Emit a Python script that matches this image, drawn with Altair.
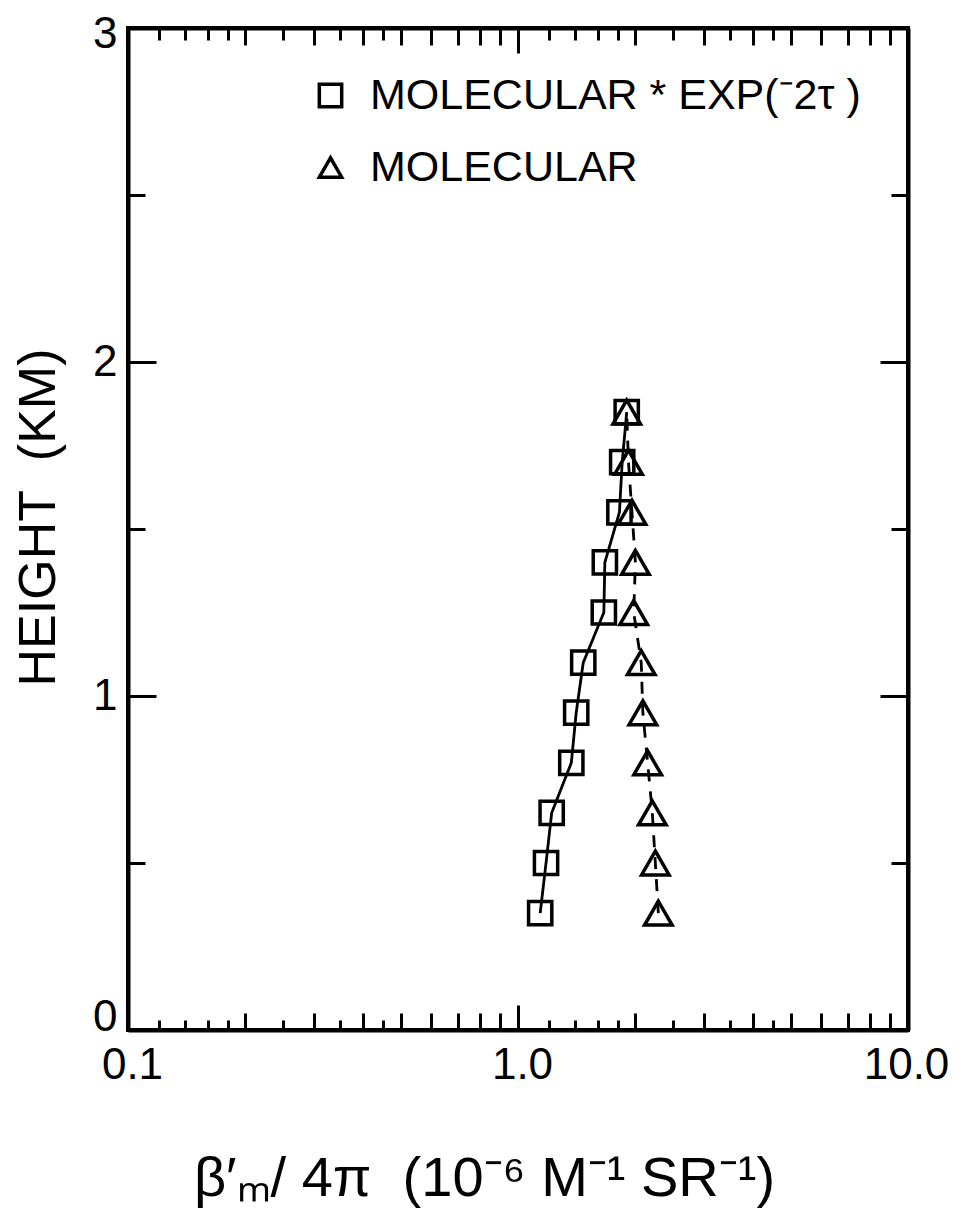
import altair as alt
import pandas as pd

# ---- data ----
heights = [0.35, 0.50, 0.65, 0.80, 0.95, 1.10, 1.25, 1.40, 1.55, 1.70, 1.85]
attenuated = [1.14, 1.18, 1.22, 1.37, 1.41, 1.47, 1.66, 1.67, 1.82, 1.85, 1.90]
molecular = [2.29, 2.25, 2.21, 2.15, 2.09, 2.07, 1.98, 2.00, 1.96, 1.92, 1.90]
series_names = ["MOLECULAR * EXP(\u207b2\u03c4 )", "MOLECULAR"]

x_label_values = [0.1, 1, 10]
x_major_ticks = [0.1, 1, 10]
x_mid_ticks = [0.2, 0.3, 0.4, 0.5, 0.6, 0.7, 0.8, 0.9, 2, 3, 4, 5, 6, 7, 8, 9]
x_minor_ticks = [0.12, 0.14, 0.16, 0.18, 0.25, 0.35, 0.45,
                 1.2, 1.4, 1.6, 1.8, 2.5, 3.5, 4.5]
y_label_values = [0, 1, 2, 3]
y_major_ticks = [0, 1, 2, 3]
y_minor_ticks = [0.5, 1.5, 2.5]

W, H = 780, 1002
FONT = "Liberation Sans"
NB = "\u00a0"

rows = []
for h, a in zip(heights, attenuated):
    rows.append({"h": h, "beta": a, "series": series_names[0]})
for h, m in zip(heights, molecular):
    rows.append({"h": h, "beta": m, "series": series_names[1]})
df = pd.DataFrame(rows)

xscale = alt.Scale(type="log", domain=[0.1, 10])
yscale = alt.Scale(domain=[0, 3])
shape_scale = alt.Scale(domain=series_names, range=["square", "triangle-up"])


def tick_axis(values, orient, size, offset, domain=False):
    return alt.Axis(orient=orient, values=values, tickSize=size, tickWidth=3,
                    tickColor="black", labels=False, domain=domain,
                    domainColor="black", domainWidth=4, grid=False,
                    title=None, offset=offset)


def tick_layer(xaxis, yaxis):
    return alt.Chart(df).mark_point(opacity=0).encode(
        x=alt.X("beta:Q", scale=xscale, axis=xaxis),
        y=alt.Y("h:Q", scale=yscale, axis=yaxis),
    )


def series_line(name, dash):
    return alt.Chart(df).transform_filter(
        alt.datum.series == name
    ).mark_line(color="black", strokeWidth=2.8, strokeDash=dash).encode(
        x=alt.X("beta:Q", scale=xscale, axis=None),
        y=alt.Y("h:Q", scale=yscale, axis=None),
        order="h:Q",
    )


legend = alt.Legend(orient="none", legendX=181, legendY=46,
                    title=None, direction="vertical", padding=0,
                    labelFont=FONT, labelFontSize=43,
                    labelColor="black", labelLimit=800,
                    labelOffset=18, rowPadding=28,
                    symbolSize=500, symbolStrokeWidth=3.5,
                    symbolStrokeColor="black",
                    symbolFillColor="transparent")

squares = alt.Chart(df).transform_filter(
    alt.datum.series == series_names[0]
).mark_point(filled=False, color="black", strokeWidth=3.5, opacity=1, size=540).encode(
    x=alt.X("beta:Q", scale=xscale,
            axis=alt.Axis(orient="bottom", values=x_label_values, format=".1f",
                          tickSize=0, domain=False, grid=False, labelFlush=False,
                          labelFont=FONT, labelFontSize=44, labelColor="black",
                          labelPadding=13,
                          labelOffset=alt.ExprRef("datum.value == 10 ? -2 : 4"),
                          title="\u03b2\u2032\u2098/ 4\u03c0" + NB + NB + "(10\u207b\u2076 M\u207b\u00b9 SR\u207b\u00b9)",
                          titleFont=FONT, titleFontSize=56, titleFontWeight="normal",
                          titleColor="black", titleX=356, titleY=165,
                          titleBaseline="alphabetic", titleAlign="center")),
    y=alt.Y("h:Q", scale=yscale,
            axis=alt.Axis(orient="left", values=y_label_values, format="d",
                          tickSize=0, domain=False, grid=False, labelFlush=False,
                          labelFont=FONT, labelFontSize=44, labelColor="black",
                          labelPadding=11,
                          labelOffset=alt.ExprRef("datum.value == 0 ? -13 : (datum.value == 3 ? 6 : 0)"),
                          title="HEIGHT" + NB + NB + "(KM)", titleFont=FONT, titleFontSize=52,
                          titleFontWeight="normal", titleColor="black",
                          titleAngle=270, titleX=-90, titleY=489,
                          titleBaseline="middle", titleAlign="center")),
    shape=alt.Shape("series:N", scale=shape_scale, legend=legend),
)

triangles = alt.Chart(df).transform_filter(
    alt.datum.series == series_names[1]
).mark_point(filled=False, color="black", strokeWidth=3.5, opacity=1, size=760).encode(
    x=alt.X("beta:Q", scale=xscale, axis=None),
    y=alt.Y("h:Q", scale=yscale, axis=None),
    shape=alt.Shape("series:N", scale=shape_scale, legend=legend),
)

layers = [
    series_line(series_names[0], [1, 0]),
    series_line(series_names[1], [12, 10]),
    squares,
    triangles,
    tick_layer(tick_axis(x_major_ticks, "top", 25, -H, True), tick_axis(y_major_ticks, "right", 28, -W, True)),
    tick_layer(tick_axis(x_mid_ticks, "top", 17, -H), tick_axis(y_minor_ticks, "right", 17, -W)),
    tick_layer(tick_axis(x_minor_ticks, "top", 10, -H), tick_axis(y_major_ticks, "left", 28, -W, True)),
    tick_layer(tick_axis(x_major_ticks, "bottom", 25, -H, True), tick_axis(y_minor_ticks, "left", 17, -W)),
    tick_layer(tick_axis(x_mid_ticks, "bottom", 17, -H), None),
    tick_layer(tick_axis(x_minor_ticks, "bottom", 12, -H), None),
]

chart = alt.layer(*layers).resolve_axis(x="independent", y="independent").properties(
    width=W, height=H,
    autosize=alt.AutoSizeParams(type="none"),
    padding={"left": 120, "top": 20, "right": 48, "bottom": 180},
    background="white",
).configure_view(stroke="black", strokeWidth=4)

chart.save("out.html", embed_options={"renderer": "svg", "actions": False})
